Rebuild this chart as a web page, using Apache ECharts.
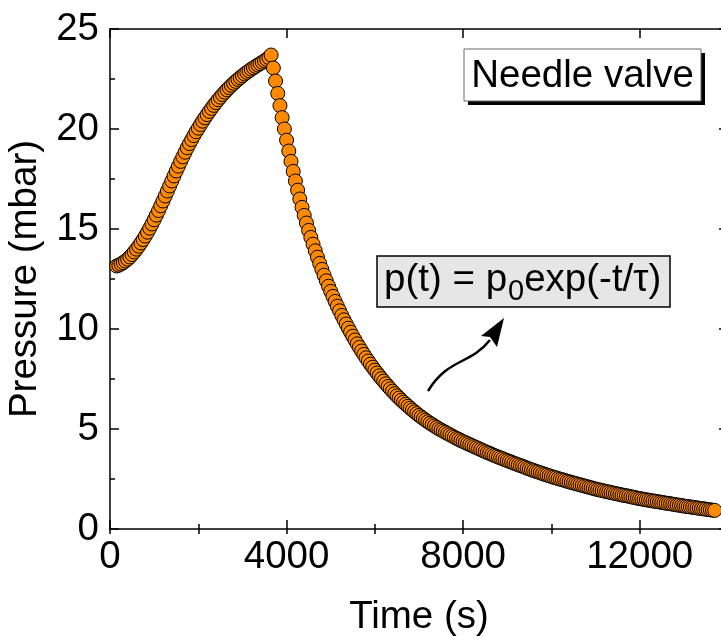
<!DOCTYPE html>
<html><head><meta charset="utf-8">
<script src="https://cdn.jsdelivr.net/npm/echarts@6/dist/echarts.min.js"></script>
<style>html,body{margin:0;padding:0;background:#fff}#c{width:721px;height:636px}</style>
</head><body><div id="c"></div>
<script>
// ---- data ----
const times = [
150,200,250,300,350,400,450,500,550,600,650,
700,750,800,850,900,950,1000,1050,1100,1150,1200,
1250,1300,1350,1400,1450,1500,1550,1600,1650,1700,1750,
1800,1850,1900,1950,2000,2050,2100,2150,2200,2250,2300,
2350,2400,2450,2500,2550,2600,2650,2700,2750,2800,2850,
2900,2950,3000,3050,3100,3150,3200,3250,3300,3350,3400,
3450,3500,3550,3600,3650,
3700,3750,3800,3850,3900,3950,4000,4050,4100,4150,4200,
4250,4300,4350,4400,4450,4500,4550,4600,4650,4700,4750,
4800,4850,4900,4950,5000,5050,5100,5150,5200,5250,5300,
5350,5400,5450,5500,5550,5600,5650,5700,5750,5800,5850,
5900,5950,6000,6050,6100,6150,6200,6250,6300,6350,6400,
6450,6500,6550,6600,6650,6700,6750,6800,6850,6900,6950,
7000,7050,7100,7150,7200,7250,7300,7350,7400,7450,7500,
7550,7600,7650,7700,7750,7800,7850,7900,7950,8000,8050,
8100,8150,8200,8250,8300,8350,8400,8450,8500,8550,8600,
8650,8700,8750,8800,8850,8900,8950,9000,9050,9100,9150,
9200,9250,9300,9350,9400,9450,9500,9550,9600,9650,9700,
9750,9800,9850,9900,9950,10000,10050,10100,10150,10200,10250,
10300,10350,10400,10450,10500,10550,10600,10650,10700,10750,10800,
10850,10900,10950,11000,11050,11100,11150,11200,11250,11300,11350,
11400,11450,11500,11550,11600,11650,11700,11750,11800,11850,11900,
11950,12000,12050,12100,12150,12200,12250,12300,12350,12400,12450,
12500,12550,12600,12650,12700,12750,12800,12850,12900,12950,13000,
13050,13100,13150,13200,13250,13300,13350,13400,13450,13500,13550,
13600,13650,13700
];
const pressures = [
13.15,13.19,13.25,13.32,13.40,13.49,13.60,13.72,13.85,13.99,14.14,
14.30,14.47,14.65,14.84,15.04,15.25,15.46,15.69,15.92,16.16,16.40,
16.65,16.90,17.15,17.40,17.65,17.90,18.14,18.38,18.61,18.84,19.06,
19.27,19.47,19.67,19.86,20.04,20.22,20.39,20.56,20.72,20.88,21.03,
21.18,21.32,21.46,21.59,21.72,21.84,21.96,22.07,22.18,22.28,22.38,
22.48,22.57,22.66,22.75,22.83,22.91,22.99,23.06,23.13,23.20,23.27,
23.34,23.41,23.48,23.57,23.70,
23.05,22.40,21.78,21.17,20.57,20.00,19.44,18.90,18.38,17.88,17.40,
16.94,16.50,16.08,15.68,15.30,14.93,14.58,14.24,13.91,13.59,13.28,
12.98,12.69,12.41,12.14,11.88,11.63,11.38,11.14,10.91,10.68,10.46,
10.25,10.04,9.84,9.64,9.45,9.26,9.08,8.90,8.73,8.56,8.40,
8.24,8.09,7.94,7.80,7.66,7.52,7.39,7.26,7.13,7.01,6.89,
6.77,6.66,6.55,6.44,6.34,6.24,6.14,6.04,5.95,5.86,5.77,
5.68,5.60,5.52,5.44,5.36,5.29,5.22,5.15,5.08,5.01,4.95,
4.89,4.83,4.77,4.71,4.65,4.59,4.53,4.48,4.42,4.37,4.32,
4.27,4.22,4.17,4.12,4.07,4.02,3.97,3.92,3.87,3.82,3.78,
3.73,3.68,3.64,3.59,3.55,3.51,3.46,3.42,3.38,3.34,3.29,
3.25,3.21,3.17,3.13,3.09,3.04,3.00,2.96,2.92,2.88,2.85,
2.81,2.77,2.73,2.70,2.66,2.62,2.59,2.56,2.52,2.49,2.46,
2.43,2.39,2.36,2.33,2.30,2.27,2.24,2.21,2.18,2.15,2.12,
2.09,2.06,2.03,2.00,1.97,1.95,1.92,1.90,1.87,1.85,1.82,
1.80,1.77,1.75,1.73,1.70,1.68,1.66,1.64,1.61,1.59,1.57,
1.54,1.52,1.50,1.48,1.46,1.44,1.42,1.40,1.39,1.37,1.35,
1.33,1.31,1.29,1.28,1.26,1.24,1.22,1.20,1.19,1.17,1.15,
1.13,1.12,1.10,1.09,1.07,1.05,1.04,1.02,1.01,0.99,0.97,
0.96,0.94,0.93
];
const xTickLabels = [0, 4000, 8000, 12000];
const yTickLabels = [0, 5, 10, 15, 20, 25];
const xTitle = 'Time (s)';
const yTitle = 'Pressure (mbar)';
const boxLabel = 'Needle valve';
const formulaParts = ['p(t) = p', '0', 'exp(-t/τ)'];

// ---- chart ----
const FONT = '"Liberation Sans", Arial, Helvetica, sans-serif';
const FS = 38.5;
const chart = echarts.init(document.getElementById('c'), null, {renderer: 'canvas'});

const axisLineStyle = {color: '#000', width: 1.5};
function majorX(pos, withLabel) {
  return {
    type: 'value', position: pos, min: 0, max: 14000, interval: 4000,
    axisLine: {show: true, onZero: false, lineStyle: axisLineStyle},
    axisTick: {show: true, inside: true, length: 9, lineStyle: axisLineStyle},
    axisLabel: withLabel ? {
      show: true, fontSize: FS, fontFamily: FONT, color: '#000', margin: 9,
      showMaxLabel: false,
      formatter: v => xTickLabels.indexOf(v) >= 0 ? String(v) : ''
    } : {show: false},
    splitLine: {show: false},
    name: withLabel ? xTitle : '', nameLocation: 'middle', nameGap: 69,
    nameTextStyle: {fontSize: FS, fontFamily: FONT, color: '#000'}
  };
}
function minorX(pos) {
  return {
    type: 'value', position: pos, min: 0, max: 14000, interval: 2000,
    axisLine: {show: false},
    axisTick: {show: true, inside: true, length: 5, lineStyle: axisLineStyle},
    axisLabel: {show: false}, splitLine: {show: false}
  };
}
function yAx(pos, withLabel) {
  return {
    type: 'value', position: pos, min: 0, max: 25, interval: 5,
    axisLine: {show: true, onZero: false, lineStyle: axisLineStyle},
    axisTick: {show: true, inside: true, length: 9, lineStyle: axisLineStyle},
    minorTick: {show: true, splitNumber: 2, length: 5, lineStyle: axisLineStyle},
    axisLabel: withLabel ? {
      show: true, fontSize: FS, fontFamily: FONT, color: '#000', margin: 11,
      formatter: v => yTickLabels.indexOf(v) >= 0 ? String(v) : ''
    } : {show: false},
    splitLine: {show: false}, minorSplitLine: {show: false},
    name: withLabel ? yTitle : '', nameLocation: 'middle', nameGap: 59, nameRotate: 90,
    nameTextStyle: {fontSize: FS, fontFamily: FONT, color: '#000'}
  };
}

// measure for the formula annotation
const mctx = document.createElement('canvas').getContext('2d');
function tw(s, size) { mctx.font = size + 'px ' + FONT; return mctx.measureText(s).width; }
const fx0 = 384;
const fx1 = fx0 + tw(formulaParts[0], FS) + 1;
const fx2 = fx1 + tw(formulaParts[1], 29);

chart.setOption({
  animation: false,
  backgroundColor: '#fff',
  grid: {left: 110, top: 29, right: -7, bottom: 107, containLabel: false, outerBoundsMode: 'none'},
  xAxis: [majorX('bottom', true), minorX('bottom'), majorX('top', false), minorX('top')],
  yAxis: [yAx('left', true), yAx('right', false)],
  series: [{
    type: 'scatter', xAxisIndex: 0, yAxisIndex: 0,
    symbol: 'circle', symbolSize: 14,
    itemStyle: {color: '#FF8A00', borderColor: '#000', borderWidth: 1, opacity: 1},
    data: times.map((t, i) => [t, pressures[i]]),
    clip: false
  }],
  graphic: [
    {type: 'rect', z: 100, shape: {x: 468, y: 53, width: 237, height: 52}, style: {fill: '#000'}},
    {type: 'rect', z: 101, shape: {x: 464, y: 49, width: 237, height: 52}, style: {fill: '#fff', stroke: '#666', lineWidth: 1}},
    {type: 'text', z: 102, x: 582.5, y: 76, style: {text: boxLabel, font: FS + 'px ' + FONT, fill: '#000', align: 'center', verticalAlign: 'middle'}},
    {type: 'rect', z: 100, shape: {x: 377, y: 256, width: 293, height: 51}, style: {fill: '#e6e6e6', stroke: '#000', lineWidth: 1.5}},
    {type: 'text', z: 102, x: fx0, y: 280.5, style: {text: formulaParts[0], font: FS + 'px ' + FONT, fill: '#000', align: 'left', verticalAlign: 'middle'}},
    {type: 'text', z: 102, x: fx1, y: 292, style: {text: formulaParts[1], font: '29px ' + FONT, fill: '#000', align: 'left', verticalAlign: 'middle'}},
    {type: 'text', z: 102, x: fx2, y: 280.5, style: {text: formulaParts[2], font: FS + 'px ' + FONT, fill: '#000', align: 'left', verticalAlign: 'middle'}},
    {type: 'bezierCurve', z: 102, shape: {x1: 428, y1: 391, cpx1: 448, cpy1: 358, cpx2: 470, cpy2: 365, x2: 490, y2: 340},
      style: {stroke: '#000', lineWidth: 2.5, fill: null}},
    {type: 'polygon', z: 103, shape: {points: [[504, 318], [481, 336], [490, 337], [497, 347]]}, style: {fill: '#000'}}
  ]
});
</script>
</body></html>
